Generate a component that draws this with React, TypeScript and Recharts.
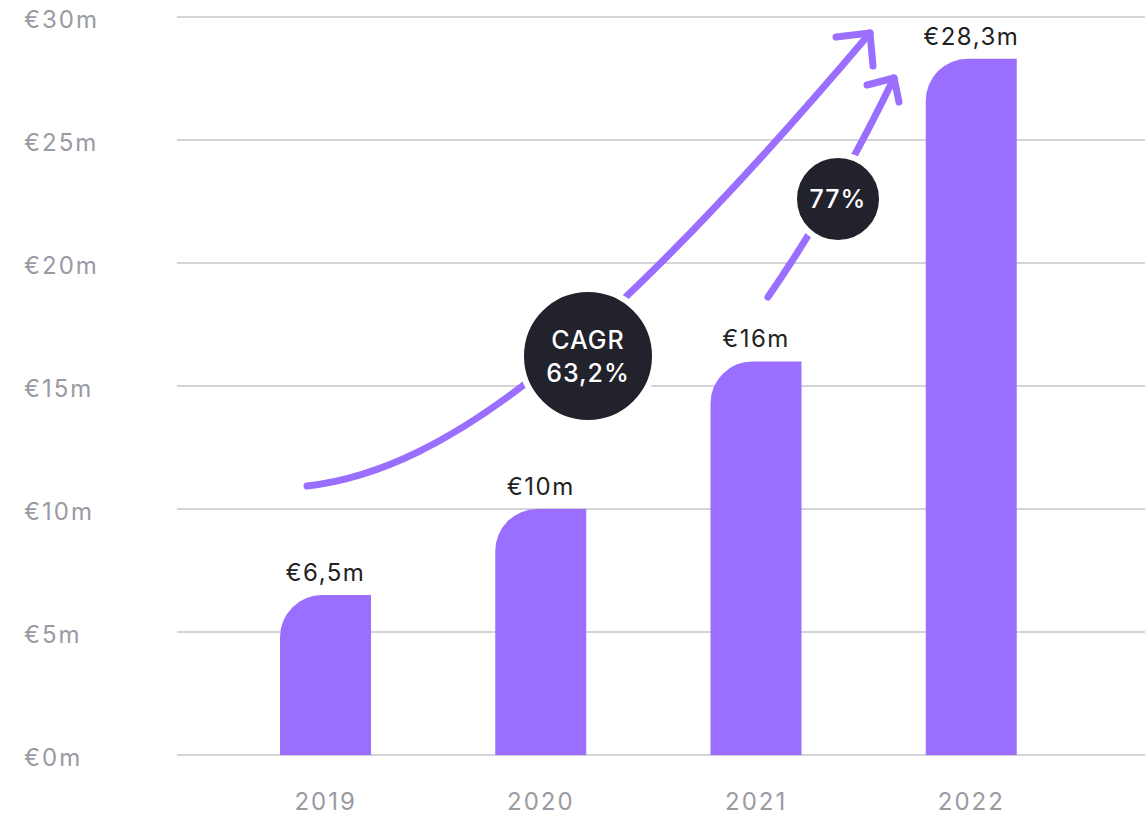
import React from 'react';
import { BarChart, Bar, XAxis, YAxis, CartesianGrid, LabelList } from 'recharts';

const years = ['2019', '2020', '2021', '2022'];
const revenue = [6.5, 10, 16, 28.3];
const revenueLabels = ['€6,5m', '€10m', '€16m', '€28,3m'];
const yTicks = [0, 5, 10, 15, 20, 25, 30];

const data = years.map((year, i) => ({ year, revenue: revenue[i], label: revenueLabels[i] }));

const PURPLE = '#9a6fff';
const DARK = '#22222c';
const GREY = '#9a9aa3';
const FONT = 'Inter, "Noto Sans", sans-serif';

const YTick = (props: any) => {
  const { y, payload } = props;
  return (
    <text x={24} y={y} dy={11} fill={GREY} fontSize={24} letterSpacing={2} fontFamily={FONT} textAnchor="start">
      €{payload.value}m
    </text>
  );
};

const XTick = (props: any) => {
  const { x, payload } = props;
  return (
    <text x={x} y={810} fill={GREY} fontSize={24} letterSpacing={2} fontFamily={FONT} textAnchor="middle">
      {payload.value}
    </text>
  );
};

// decorative arrows and circles, drawn on top in page pixels
const Annotations = () => (
  <svg width={1145} height={815} style={{ position: 'absolute', left: 0, top: 0, pointerEvents: 'none' }}>
    <g fill="none" stroke={PURPLE} strokeWidth={7} strokeLinecap="round" strokeLinejoin="round">
      <path d="M307,486 C450,470 610,340 870,33" />
      <path d="M836,37 L870,33 L873,66" />
      <path d="M768,297 Q835,200 894,78" />
      <path d="M867,85 L894,78 L899,102" />
    </g>
    <circle cx={588} cy={356} r={67} fill={DARK} stroke="#fff" strokeWidth={6} />
    <text x={588} y={349} fill="#fff" fontSize={25} fontWeight={500} letterSpacing={1} fontFamily={FONT} textAnchor="middle">CAGR</text>
    <text x={588} y={382} fill="#fff" fontSize={25} fontWeight={500} letterSpacing={1} fontFamily={FONT} textAnchor="middle">63,2%</text>
    <circle cx={838} cy={199} r={44} fill={DARK} stroke="#fff" strokeWidth={6} />
    <text x={838} y={208} fill="#fff" fontSize={25} fontWeight={500} letterSpacing={1} fontFamily={FONT} textAnchor="middle">77%</text>
  </svg>
);

export default function App() {
  return (
    <div style={{ position: 'relative', width: 1145, height: 815, background: '#fff', overflow: 'hidden' }}>
      <style>{'body { margin: 0; }'}</style>
      <BarChart width={1145} height={815} data={data} margin={{ top: 17, right: 0, left: 0, bottom: 0 }}>
        <CartesianGrid vertical={false} stroke="#a9a9b1" strokeWidth={1} />
        <XAxis
          dataKey="year"
          axisLine={false}
          tickLine={false}
          height={60}
          padding={{ left: 41, right: 66 }}
          tick={<XTick />}
        />
        <YAxis
          domain={[0, 30]}
          ticks={yTicks}
          width={177}
          axisLine={false}
          tickLine={false}
          tick={<YTick />}
        />
        <Bar dataKey="revenue" fill={PURPLE} barSize={91} radius={[42, 0, 0, 0]} isAnimationActive={false}>
          <LabelList dataKey="label" position="top" offset={14} fill="#222" fontSize={24} letterSpacing={1.5} fontFamily={FONT} />
        </Bar>
      </BarChart>
      <Annotations />
    </div>
  );
}
